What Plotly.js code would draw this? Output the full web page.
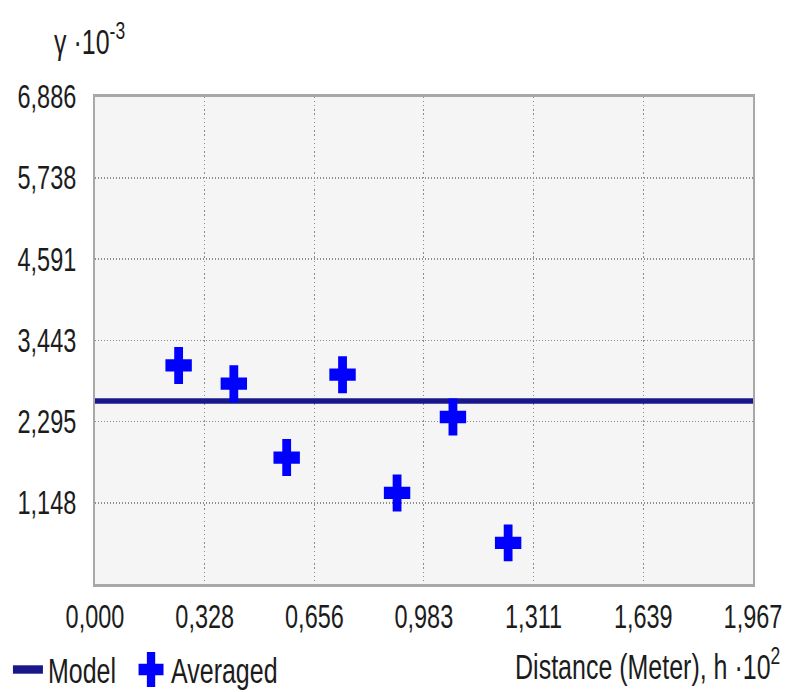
<!DOCTYPE html>
<html>
<head>
<meta charset="utf-8">
<script src="https://cdn.plot.ly/plotly-3.0.1.min.js"></script>
<style>
  html, body { margin: 0; padding: 0; background: #ffffff; }
  #frame { width: 794px; height: 692px; position: relative; }
  /* The chart is laid out at 794x494 and stretched vertically to fill 794x692,
     giving the tall, narrow lettering and elongated markers of the original plot. */
  #chart {
    position: absolute;
    left: 0;
    top: 0;
    width: 794px;
    height: 494px;
    transform: scaleY(1.4008);
    transform-origin: 0 0;
  }
</style>
</head>
<body>
<div id="frame"><div id="chart"></div></div>
<script>
// Averaged semivariogram values (distance h·10^2, gamma·10^-3)
const avgDistance = [0.250, 0.415, 0.573, 0.740, 0.903, 1.070, 1.235];
const avgGamma    = [3.090, 2.832, 1.788, 2.959, 1.288, 2.361, 0.583];

// Fitted model (constant sill across the lag range)
const modelDistance = [0, 1.967];
const modelGamma    = [2.587, 2.587];

// Axis ticks
const xTickVals   = [0, 0.328, 0.656, 0.983, 1.311, 1.639, 1.967];
const xTickLabels = ['0,000', '0,328', '0,656', '0,983', '1,311', '1,639', '1,967'];
const yTickVals   = [1.148, 2.295, 3.443, 4.591, 5.738, 6.886];
const yTickLabels = ['1,148', '2,295', '3,443', '4,591', '5,738', '6,886'];

const FONT = '"Liberation Sans", Arial, sans-serif';
const TEXT_COLOR = '#1c1c1c';
const TICK_SIZE = 23.5;
const LABEL_SIZE = 25;

const traces = [
  {
    type: 'scatter',
    mode: 'lines',
    name: 'Model',
    x: modelDistance,
    y: modelGamma,
    line: { color: '#18188a', width: 4 },
    hoverinfo: 'skip'
  },
  {
    type: 'scatter',
    mode: 'markers',
    name: 'Averaged',
    x: avgDistance,
    y: avgGamma,
    marker: { symbol: 'cross', size: 22, color: '#0000ff', line: { width: 0 } }
  }
];

const axisCommon = {
  tickmode: 'array',
  ticks: '',
  showgrid: true,
  gridcolor: '#8c8c8c',
  griddash: '1px,2px',
  gridwidth: 1,
  zeroline: false,
  showline: true,
  mirror: true,
  linecolor: '#a8a8a8',
  linewidth: 2,
  automargin: false,
  tickfont: { family: FONT, size: TICK_SIZE, color: TEXT_COLOR }
};

const layout = {
  width: 794,
  height: 494,
  margin: { l: 95, r: 41, t: 69, b: 77, autoexpand: false },
  paper_bgcolor: '#ffffff',
  plot_bgcolor: '#f5f5f5',
  font: { family: FONT, size: LABEL_SIZE, color: TEXT_COLOR },
  showlegend: true,
  legend: {
    orientation: 'h',
    xref: 'container',
    yref: 'container',
    x: 0.01,
    xanchor: 'left',
    y: 0.032,
    yanchor: 'middle',
    font: { family: FONT, size: LABEL_SIZE, color: TEXT_COLOR },
    bgcolor: 'rgba(0,0,0,0)',
    itemwidth: 30,
    tracegroupgap: 0
  },
  xaxis: Object.assign({}, axisCommon, {
    range: [0, 1.967],
    tickvals: xTickVals,
    ticktext: xTickLabels,
    ticklabelstandoff: 1
  }),
  yaxis: Object.assign({}, axisCommon, {
    range: [0, 6.886],
    tickvals: yTickVals,
    ticktext: yTickLabels,
    ticklabelstandoff: 12
  }),
  annotations: [
    {
      text: 'γ ·10<sup>-3</sup>',
      xref: 'paper', yref: 'paper',
      x: -0.066, xanchor: 'left',
      y: 1.118, yanchor: 'middle',
      showarrow: false,
      font: { family: FONT, size: LABEL_SIZE, color: TEXT_COLOR }
    },
    {
      text: 'Distance (Meter), h ·10<sup>2</sup>',
      xref: 'paper', yref: 'paper',
      x: 1.044, xanchor: 'right',
      y: -0.165, yanchor: 'middle',
      showarrow: false,
      font: { family: FONT, size: LABEL_SIZE, color: TEXT_COLOR }
    }
  ]
};

Plotly.newPlot('chart', traces, layout, { displayModeBar: false, staticPlot: true })
  .then(gd => {
    // Legend keys: full-size cross and a heavier model stroke
    gd.querySelectorAll('.legend .legendpoints path.scatterpts').forEach(p => {
      const t = p.getAttribute('transform') || '';
      p.setAttribute('transform', t + ' scale(1.3)');
    });
    gd.querySelectorAll('.legend .legendlines path').forEach(p => {
      p.style.strokeWidth = '6px';
    });
    // A little more room between the two legend entries (no clipping of the last one)
    gd.querySelectorAll('.legend .scrollbox').forEach(s => s.removeAttribute('clip-path'));
    const entries = gd.querySelectorAll('.legend .traces');
    for (let i = 1; i < entries.length; i++) {
      const t = entries[i].getAttribute('transform') || '';
      entries[i].setAttribute('transform', 'translate(' + (10 * i) + ',0) ' + t);
    }
  });
</script>
</body>
</html>
